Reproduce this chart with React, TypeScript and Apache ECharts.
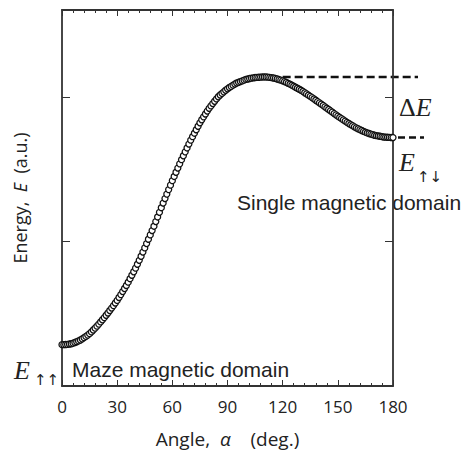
import React, { useEffect, useRef } from "react";
import * as echarts from "echarts";

const W = 463;
const H = 453;

// Angle sampling of the curve (deg.)
const ANGLE_START = 0;
const ANGLE_STEP = 1;
const X_TICKS = [0, 30, 60, 90, 120, 150, 180];
const Y_MAX = 2.6;

// Energy (a.u.), one value per degree from 0 to 180
const ENERGY = [
  0.286, 0.286, 0.287, 0.288, 0.290,
  0.292, 0.296, 0.301, 0.306, 0.312,
  0.318, 0.326, 0.334, 0.343, 0.352,
  0.362, 0.374, 0.387, 0.400, 0.414,
  0.428, 0.443, 0.458, 0.473, 0.489,
  0.505, 0.522, 0.539, 0.556, 0.574,
  0.592, 0.612, 0.632, 0.653, 0.674,
  0.695, 0.718, 0.742, 0.766, 0.790,
  0.815, 0.842, 0.869, 0.897, 0.926,
  0.955, 0.985, 1.015, 1.045, 1.075,
  1.105, 1.137, 1.169, 1.201, 1.233,
  1.265, 1.296, 1.327, 1.358, 1.389,
  1.420, 1.449, 1.478, 1.507, 1.536,
  1.565, 1.592, 1.619, 1.646, 1.673,
  1.700, 1.724, 1.748, 1.772, 1.796,
  1.820, 1.841, 1.861, 1.881, 1.901,
  1.920, 1.937, 1.953, 1.969, 1.985,
  2.000, 2.012, 2.023, 2.034, 2.045,
  2.055, 2.064, 2.072, 2.080, 2.088,
  2.095, 2.100, 2.105, 2.110, 2.115,
  2.120, 2.123, 2.126, 2.129, 2.131,
  2.133, 2.134, 2.135, 2.136, 2.137,
  2.137, 2.137, 2.136, 2.134, 2.132,
  2.130, 2.127, 2.123, 2.119, 2.115,
  2.110, 2.105, 2.099, 2.093, 2.087,
  2.080, 2.073, 2.066, 2.059, 2.052,
  2.045, 2.037, 2.028, 2.020, 2.011,
  2.003, 1.994, 1.985, 1.976, 1.967,
  1.958, 1.949, 1.940, 1.930, 1.921,
  1.912, 1.903, 1.894, 1.884, 1.875,
  1.866, 1.857, 1.849, 1.840, 1.832,
  1.823, 1.815, 1.807, 1.800, 1.792,
  1.785, 1.779, 1.773, 1.767, 1.761,
  1.755, 1.750, 1.746, 1.742, 1.738,
  1.734, 1.731, 1.729, 1.727, 1.724,
  1.722, 1.721, 1.720, 1.719, 1.718,
  1.718,
];

// Start angle of the ΔE reference dashed line
const DASH_START_ANGLE = 120;

const AXIS_COLOR = "#333";
const TEXT_COLOR = "#222";

export default function App() {
  const ref = useRef<HTMLDivElement>(null);

  useEffect(() => {
    if (!ref.current) return;
    const chart = echarts.init(ref.current, null, { renderer: "svg", width: W, height: H });
    const data = ENERGY.map((e, i) => [ANGLE_START + i * ANGLE_STEP, e]);
    const xMin = X_TICKS[0];
    const xMax = X_TICKS[X_TICKS.length - 1];
    const xInterval = X_TICKS[1] - X_TICKS[0];

    const xCommon = {
      type: "value",
      min: xMin,
      max: xMax,
      interval: xInterval,
      axisLine: { show: true, onZero: false, lineStyle: { color: AXIS_COLOR, width: 1.8 } },
      axisTick: { show: true, inside: true, length: 6, lineStyle: { color: AXIS_COLOR, width: 1 } },
      minorTick: { show: true, splitNumber: 5, length: 3, lineStyle: { color: AXIS_COLOR, width: 1 } },
      splitLine: { show: false },
      minorSplitLine: { show: false },
    };
    const yCommon = {
      type: "value",
      min: 0,
      max: Y_MAX,
      interval: 1,
      axisLine: { show: true, onZero: false, lineStyle: { color: AXIS_COLOR, width: 1.8 } },
      axisTick: { show: true, inside: true, length: 8, lineStyle: { color: AXIS_COLOR, width: 1 } },
      axisLabel: { show: false },
      splitLine: { show: false },
    };

    chart.setOption({
      animation: false,
      backgroundColor: "#fff",
      grid: { left: 62, right: 70, top: 10, bottom: 65, containLabel: false },
      xAxis: [
        {
          ...xCommon,
          position: "bottom",
          name: "{a|Angle,  }{i|α}{a|    (deg.)}",
          nameLocation: "middle",
          nameGap: 43,
          nameTextStyle: {
            rich: {
              a: { fontFamily: "Open Sans", fontSize: 19, color: TEXT_COLOR },
              i: { fontFamily: "Open Sans", fontSize: 19, fontStyle: "italic", color: TEXT_COLOR },
            },
          },
          axisLabel: {
            show: true,
            margin: 12,
            color: TEXT_COLOR,
            fontSize: 17,
            fontFamily: "Open Sans",
          },
        },
        { ...xCommon, position: "top", axisLabel: { show: false } },
      ],
      yAxis: [
        {
          ...yCommon,
          position: "left",
          name: "{a|Energy,  }{i|E}{a|  (a.u.)}",
          nameLocation: "middle",
          nameRotate: 90,
          nameGap: 33,
          nameTextStyle: {
            rich: {
              a: { fontFamily: "Open Sans", fontSize: 18, color: TEXT_COLOR },
              i: { fontFamily: "Open Sans", fontSize: 18, fontStyle: "italic", color: TEXT_COLOR },
            },
          },
        },
        { ...yCommon, position: "right" },
      ],
      series: [
        {
          type: "scatter",
          data,
          symbol: "circle",
          symbolSize: 6,
          itemStyle: { color: "#fff", borderColor: "#111", borderWidth: 1.3, opacity: 1 },
          silent: true,
        },
      ],
    });

    const peakE = Math.max(...ENERGY);
    const last = data[data.length - 1];
    const pStart = chart.convertToPixel({ gridIndex: 0 }, [DASH_START_ANGLE, peakE]) as number[];
    const pRight = chart.convertToPixel({ gridIndex: 0 }, [xMax, peakE]) as number[];
    const pEnd = chart.convertToPixel({ gridIndex: 0 }, last) as number[];

    const serif = "Liberation Serif";
    const sans = "Liberation Sans";
    const arrows = "DejaVu Sans";

    const label = (text: string, x: number, y: number, font: any) => ({
      type: "text",
      x,
      y,
      style: { text, fill: TEXT_COLOR, textAlign: "left", textVerticalAlign: "middle", ...font },
    });

    chart.setOption({
      graphic: [
        {
          type: "line",
          shape: { x1: pStart[0], y1: pStart[1], x2: pRight[0] + 25, y2: pStart[1] },
          style: { stroke: "#111", lineWidth: 2.5, lineDash: [8, 4] },
        },
        {
          type: "line",
          shape: { x1: pEnd[0] + 5, y1: pEnd[1], x2: pEnd[0] + 31, y2: pEnd[1] },
          style: { stroke: "#111", lineWidth: 2.5, lineDash: [7, 4] },
        },
        {
          type: "text",
          x: 399,
          y: 107,
          style: {
            text: "{d|Δ}{e|E}",
            rich: {
              d: { fontFamily: serif, fontSize: 26, fill: TEXT_COLOR },
              e: { fontFamily: serif, fontSize: 26, fontStyle: "italic", fill: TEXT_COLOR },
            },
            textAlign: "left",
            textVerticalAlign: "middle",
          },
        },
        label("E", 399, 162, { fontFamily: serif, fontSize: 26, fontStyle: "italic" }),
        label("↑↓", 417, 177, { fontFamily: arrows, fontSize: 15 }),
        label("E", 14, 370, { fontFamily: serif, fontSize: 26, fontStyle: "italic" }),
        label("↑↑", 34, 380, { fontFamily: arrows, fontSize: 15 }),
        label("Single magnetic domain", 237, 202, { fontFamily: sans, fontSize: 21 }),
        label("Maze magnetic domain", 72, 369, { fontFamily: sans, fontSize: 21 }),
      ],
    });

    return () => chart.dispose();
  }, []);

  return (
    <div
      ref={ref}
      style={{ position: "absolute", left: 0, top: 0, width: W, height: H }}
    />
  );
}
